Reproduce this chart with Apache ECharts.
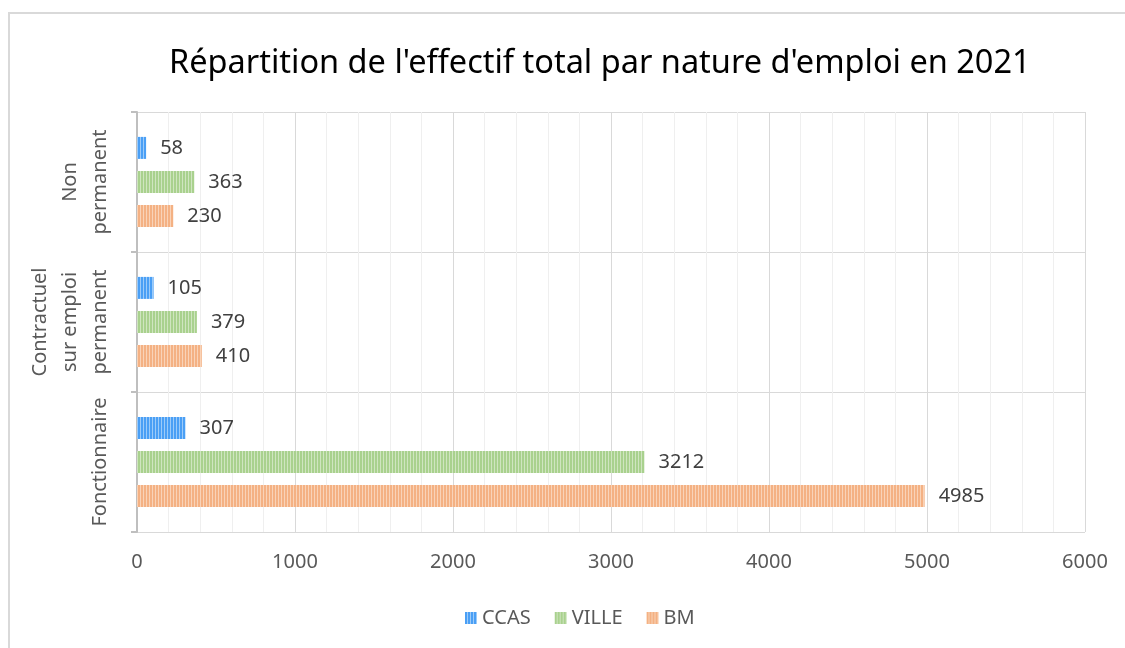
<!DOCTYPE html>
<html><head><meta charset="utf-8">
<script src="https://cdn.jsdelivr.net/npm/echarts@6/dist/echarts.min.js"></script>
<style>html,body{margin:0;padding:0;background:#fff}#c{width:1125px;height:648px}</style>
</head><body><div id="c"></div>
<script>
const categories = ['Fonctionnaire', 'Contractuel\nsur emploi\npermanent', 'Non\npermanent'];
const ccas = [307, 105, 58];
const ville = [3212, 379, 363];
const bm = [4985, 410, 230];
const xTicks = [0, 1000, 2000, 3000, 4000, 5000, 6000];

function stripe(base, light) {
  const c = document.createElement('canvas');
  c.width = 3; c.height = 4;
  const g = c.getContext('2d');
  g.fillStyle = base; g.fillRect(0, 0, 3, 4);
  g.fillStyle = light; g.fillRect(2, 0, 1, 4);
  return { image: c, repeat: 'repeat' };
}
const FONT = 'Noto Sans';
const chart = echarts.init(document.getElementById('c'));
const lbl = { show: true, position: 'right', distance: 14, color: '#404040', fontSize: 20, fontFamily: FONT };
chart.setOption({
  animation: false,
  title: { text: "Répartition de l'effectif total par nature d'emploi en 2021", left: 164, top: 42,
    textStyle: { fontFamily: FONT, fontSize: 32.5, fontWeight: 'normal', color: '#000' } },
  graphic: [{ type: 'rect', shape: { x: 9, y: 13, width: 1200, height: 700 }, style: { fill: 'none', stroke: '#d9d9d9', lineWidth: 2 } }],
  legend: { bottom: 15, left: 460, icon: 'rect', itemWidth: 12, itemHeight: 12, itemGap: 24,
    textStyle: { fontFamily: FONT, fontSize: 20, color: '#595959' }, data: ['CCAS', 'VILLE', 'BM'] },
  grid: { left: 137, right: 40, top: 112, bottom: 116, containLabel: false },
  xAxis: { type: 'value', min: xTicks[0], max: xTicks[xTicks.length - 1], interval: 1000,
    axisLine: { show: false }, axisTick: { show: false },
    axisLabel: { fontFamily: FONT, fontSize: 20, color: '#595959', margin: 20, formatter: v => String(v) },
    splitLine: { show: true, lineStyle: { color: '#d9d9d9', width: 1 } },
    minorTick: { show: false, splitNumber: 5 },
    minorSplitLine: { show: true, lineStyle: { color: '#efefef', width: 1 } } },
  yAxis: { type: 'category', data: categories,
    axisLine: { show: true, lineStyle: { color: '#bfbfbf', width: 2 } },
    axisTick: { show: true, length: 6, lineStyle: { color: '#bfbfbf', width: 2 } },
    splitLine: { show: true, lineStyle: { color: '#d9d9d9', width: 1 } },
    axisLabel: { interval: 0, hideOverlap: false, rotate: 90, fontFamily: FONT, fontSize: 20, color: '#595959', lineHeight: 30, margin: 22 } },
  series: [
    { name: 'CCAS', type: 'bar', data: ccas, barWidth: 22, barGap: '55%', itemStyle: { color: stripe('#4a9ff5', '#9ccbf9') }, label: lbl },
    { name: 'VILLE', type: 'bar', data: ville, barWidth: 22, barGap: '55%', itemStyle: { color: stripe('#a9d18e', '#cfe5c0') }, label: lbl },
    { name: 'BM', type: 'bar', data: bm, barWidth: 22, barGap: '55%', itemStyle: { color: stripe('#f4b183', '#f9d3b8') }, label: lbl }
  ]
});
</script></body></html>
